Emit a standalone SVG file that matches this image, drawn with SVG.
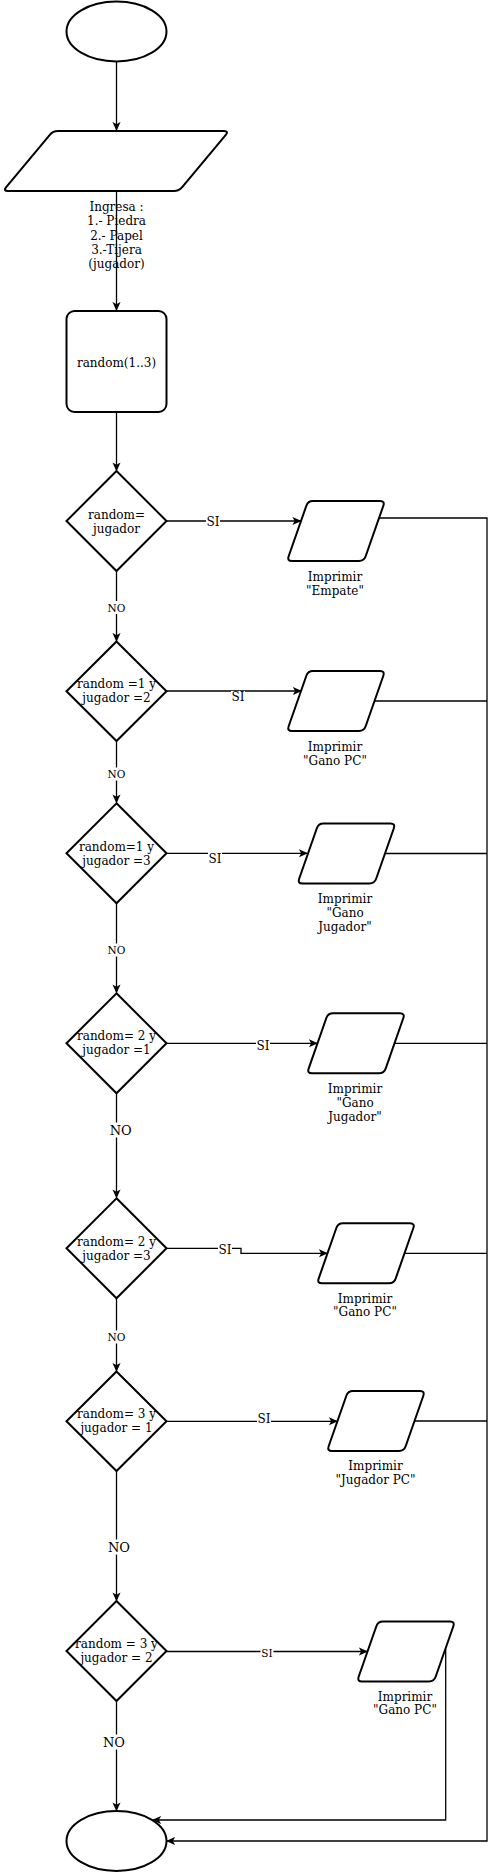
<svg xmlns="http://www.w3.org/2000/svg" width="495" height="1872" viewBox="0 0 495 1872">
<style>
.s{fill:#fff;stroke:#000;stroke-width:2}
.c{fill:none;stroke:#000;stroke-width:1.3}
.t{font-family:"DejaVu Serif","Liberation Serif",serif;font-size:12px;fill:#000;text-anchor:middle}
.sm{font-size:10.5px}
.lg{font-size:13px}
.bg{fill:#fff}
</style>
<defs>
<marker id="ah" viewBox="0 0 10 10" refX="9" refY="5" markerWidth="9" markerHeight="9" markerUnits="userSpaceOnUse" orient="auto">
<path d="M0,0.5 L10,5 L0,9.5 L2.5,5 Z" fill="#000"/>
</marker>
<path id="pp" d="M26,0 L93,0 Q98,0 96.35,4.72 L78.65,55.28 Q77,60 72,60 L5,60 Q0,60 1.65,55.28 L19.35,4.72 Q21,0 26,0 Z"/>
</defs>

<g id="connectors">
<path class="c" d="M116.5,62 V130" marker-end="url(#ah)"/>
<path class="c" d="M116.5,191 V310" marker-end="url(#ah)"/>
<path class="c" d="M116.5,412 V470.5" marker-end="url(#ah)"/>
<path class="c" d="M116.5,571 V641" marker-end="url(#ah)"/>
<path class="c" d="M116.5,741 V802.5" marker-end="url(#ah)"/>
<path class="c" d="M116.5,903 V992.5" marker-end="url(#ah)"/>
<path class="c" d="M116.5,1093 V1197.5" marker-end="url(#ah)"/>
<path class="c" d="M116.5,1298 V1371" marker-end="url(#ah)"/>
<path class="c" d="M116.5,1471 V1600.5" marker-end="url(#ah)"/>
<path class="c" d="M116.5,1701 V1810.5" marker-end="url(#ah)"/>
<path class="c" d="M166.5,521 H300.5" marker-end="url(#ah)"/>
<path class="c" d="M166.5,691 H301" marker-end="url(#ah)"/>
<path class="c" d="M166.5,853.3 H307" marker-end="url(#ah)"/>
<path class="c" d="M166.5,1043.3 H317" marker-end="url(#ah)"/>
<path class="c" d="M166.5,1248.3 H241 V1253.3 H327" marker-end="url(#ah)"/>
<path class="c" d="M166.5,1421.3 H337" marker-end="url(#ah)"/>
<path class="c" d="M166.5,1651.5 H367" marker-end="url(#ah)"/>
<path class="c" d="M379,518 H487 V1841 H167" marker-end="url(#ah)"/>
<path class="c" d="M374.5,701 H487"/>
<path class="c" d="M384.5,853.5 H487"/>
<path class="c" d="M394.5,1043.3 H487"/>
<path class="c" d="M404.5,1253.3 H487"/>
<path class="c" d="M414.5,1421 H487"/>
<path class="c" d="M445.7,1649 V1820 H153" marker-end="url(#ah)"/>
<g id="edge-labels">
<rect class="bg" x="106" y="601" width="21" height="13"/><text class="t sm" x="116.5" y="611.5">NO</text>
<rect class="bg" x="106" y="767.5" width="21" height="13"/><text class="t sm" x="116.5" y="778">NO</text>
<rect class="bg" x="106" y="943.5" width="21" height="13"/><text class="t sm" x="116.5" y="954">NO</text>
<rect class="bg" x="109" y="1122.5" width="23" height="15"/><text class="t lg" x="120.7" y="1134.7">NO</text>
<rect class="bg" x="106" y="1330.5" width="21" height="13"/><text class="t sm" x="116.5" y="1341">NO</text>
<rect class="bg" x="107.5" y="1539.5" width="23" height="15"/><text class="t lg" x="119" y="1551.7">NO</text>
<rect class="bg" x="102.5" y="1734.5" width="23" height="15"/><text class="t lg" x="114" y="1746.7">NO</text>
<rect class="bg" x="206" y="514" width="14" height="14"/><text class="t" x="213" y="525.5">SI</text>
<rect class="bg" x="231" y="691" width="14" height="12"/><text class="t" x="238" y="701">SI</text>
<rect class="bg" x="208" y="852" width="14" height="13"/><text class="t" x="215" y="862.7">SI</text>
<rect class="bg" x="256" y="1039.5" width="14" height="13"/><text class="t" x="263" y="1050.4">SI</text>
<rect class="bg" x="218" y="1243.5" width="14" height="13"/><text class="t" x="225" y="1254.4">SI</text>
<rect class="bg" x="257" y="1412.5" width="14" height="13"/><text class="t" x="264" y="1423.4">SI</text>
<rect class="bg" x="260.5" y="1647" width="13" height="11"/><text class="t sm" x="267" y="1656.5">SI</text>
</g>
</g>

<g id="inicio"><ellipse class="s" cx="116.5" cy="31.5" rx="50" ry="30"/></g>

<g id="ingresa">
<path class="s" d="M58,131 L224,131 Q229,131 225.8,134.84 L182.2,187.16 Q179,191 174,191 L8,191 Q3,191 6.2,187.16 L49.8,134.84 Q53,131 58,131 Z"/>
<text class="t" x="116.5" y="211">Ingresa :<tspan x="116.5" dy="14.25">1.- Piedra</tspan><tspan x="116.5" dy="14.25">2.- Papel</tspan><tspan x="116.5" dy="14.25">3.-Tijera</tspan><tspan x="116.5" dy="14.25">(jugador)</tspan></text>
</g>

<g id="random">
<rect class="s" x="66.5" y="311" width="100" height="101" rx="8"/>
<text class="t" x="116.5" y="366.5">random(1..3)</text>
</g>

<g id="d1"><path class="s" d="M116.5,471 L166.5,521 L116.5,571 L66.5,521 Z"/>
<text class="t" x="116.5" y="519">random=<tspan x="116.5" dy="14">jugador</tspan></text></g>
<g id="d2"><path class="s" d="M116.5,641.5 L166.5,691.3 L116.5,741 L66.5,691.3 Z"/>
<text class="t" x="116.5" y="688.3">random =1 y<tspan x="116.5" dy="14">jugador =2</tspan></text></g>
<g id="d3"><path class="s" d="M116.5,803.3 L166.5,853.3 L116.5,903.3 L66.5,853.3 Z"/>
<text class="t" x="116.5" y="850.7">random=1 y<tspan x="116.5" dy="14">jugador =3</tspan></text></g>
<g id="d4"><path class="s" d="M116.5,993.3 L166.5,1043.3 L116.5,1093.3 L66.5,1043.3 Z"/>
<text class="t" x="116.5" y="1040">random= 2 y<tspan x="116.5" dy="14">jugador =1</tspan></text></g>
<g id="d5"><path class="s" d="M116.5,1198.3 L166.5,1248.3 L116.5,1298.3 L66.5,1248.3 Z"/>
<text class="t" x="116.5" y="1245.7">random= 2 y<tspan x="116.5" dy="14">jugador =3</tspan></text></g>
<g id="d6"><path class="s" d="M116.5,1371.5 L166.5,1421.3 L116.5,1471 L66.5,1421.3 Z"/>
<text class="t" x="116.5" y="1418.3">random= 3 y<tspan x="116.5" dy="14">jugador = 1</tspan></text></g>
<g id="d7"><path class="s" d="M116.5,1601 L166.5,1651 L116.5,1701 L66.5,1651 Z"/>
<text class="t" x="116.5" y="1648.3">random = 3 y<tspan x="116.5" dy="14">jugador = 2</tspan></text></g>

<g id="p1"><use href="#pp" class="s" transform="translate(287,501)"/>
<text class="t" x="335" y="581">Imprimir<tspan x="335" dy="13.5">"Empate"</tspan></text></g>
<g id="p2"><use href="#pp" class="s" transform="translate(287,671)"/>
<text class="t" x="335" y="751">Imprimir<tspan x="335" dy="13.5">"Gano PC"</tspan></text></g>
<g id="p3"><use href="#pp" class="s" transform="translate(297.5,823.5)"/>
<text class="t" x="345" y="902.5">Imprimir<tspan x="345" dy="14.3">"Gano</tspan><tspan x="345" dy="14.3">Jugador"</tspan></text></g>
<g id="p4"><use href="#pp" class="s" transform="translate(307,1013.3)"/>
<text class="t" x="355" y="1092.5">Imprimir<tspan x="355" dy="14.3">"Gano</tspan><tspan x="355" dy="14.3">Jugador"</tspan></text></g>
<g id="p5"><use href="#pp" class="s" transform="translate(317,1223.3)"/>
<text class="t" x="365" y="1302.5">Imprimir<tspan x="365" dy="13.8">"Gano PC"</tspan></text></g>
<g id="p6"><use href="#pp" class="s" transform="translate(327,1391)"/>
<text class="t" x="375.5" y="1470.2">Imprimir<tspan x="375.5" dy="13.8">"Jugador PC"</tspan></text></g>
<g id="p7"><use href="#pp" class="s" transform="translate(357,1621.5)"/>
<text class="t" x="405" y="1700.8">Imprimir<tspan x="405" dy="13.5">"Gano PC"</tspan></text></g>

<g id="fin"><ellipse class="s" cx="116.5" cy="1841" rx="50" ry="30"/></g>
</svg>
